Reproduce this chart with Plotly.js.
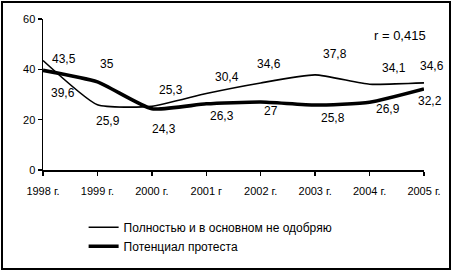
<!DOCTYPE html>
<html><head><meta charset="utf-8">
<script src="https://cdn.plot.ly/plotly-3.0.1.min.js"></script>
<style>
html,body{margin:0;padding:0;background:#fff;}
#wrap{position:relative;width:452px;height:271px;}
#chart{width:452px;height:271px;}
#frame{position:absolute;left:1px;top:1px;width:446px;height:265px;border:2px solid #000;pointer-events:none;}
</style>
</head><body>
<div id="wrap"><div id="chart"></div><div id="frame"></div></div>
<script>
const years = [1998, 1999, 2000, 2001, 2002, 2003, 2004, 2005];
const yearLabels = ["1998 г.", "1999 г.", "2000 г.", "2001 г", "2002 г.", "2003 г.", "2004 г.", "2005 г."];
const disapprove = [43.5, 25.9, 25.3, 30.4, 34.6, 37.8, 34.1, 34.6];
const protest = [39.6, 35, 24.3, 26.3, 27, 25.8, 26.9, 32.2];
const disapproveLabels = ["43,5", "25,9", "25,3", "30,4", "34,6", "37,8", "34,1", "34,6"];
const protestLabels = ["39,6", "35", "24,3", "26,3", "27", "25,8", "26,9", "32,2"];
const seriesNames = ["Полностью и в основном не одобряю", "Потенциал протеста"];
const corrText = "r = 0,415";

// label offsets (pixels) – styling only
const dOff = [[21,-2],[11,16],[19,-16],[21,-16],[8,-19],[20,-21],[24,-16],[8,-17]];
const pOff = [[20,23],[10,-18],[12,20],[16,12],[10,9],[18,13],[18,7],[6,12]];

const font = "Liberation Sans Narrow, Liberation Sans, Arial, sans-serif";

const traces = [
  {x: years, y: disapprove, name: seriesNames[0], mode: "lines",
   line: {color: "#000", width: 1.6, shape: "spline", smoothing: 0.5}},
  {x: years, y: protest, name: seriesNames[1], mode: "lines",
   line: {color: "#000", width: 3.6, shape: "spline", smoothing: 0.5}}
];

const annotations = [];
years.forEach((yr, i) => {
  annotations.push({x: yr, y: disapprove[i], text: disapproveLabels[i], showarrow: false,
    xshift: dOff[i][0], yshift: -dOff[i][1], font: {family: font, size: 12, color: "#000"}});
  annotations.push({x: yr, y: protest[i], text: protestLabels[i], showarrow: false,
    xshift: pOff[i][0], yshift: -pOff[i][1], font: {family: font, size: 12, color: "#000"}});
});
annotations.push({xref: "paper", yref: "paper", x: 1.01, y: 0.894, xanchor: "right", yanchor: "middle",
  text: corrText, showarrow: false, font: {family: font, size: 13, color: "#000"}});

const layout = {
  width: 452, height: 271,
  margin: {l: 43, r: 28, t: 19, b: 101, autoexpand: false},
  paper_bgcolor: "#fff", plot_bgcolor: "#fff",
  showlegend: true,
  legend: {xref: "container", yref: "container", x: 0.185, y: 0.215, xanchor: "left", yanchor: "top",
    font: {family: font, size: 12, color: "#000"}, tracegroupgap: 0, itemwidth: 30,
    bgcolor: "rgba(0,0,0,0)"},
  xaxis: {range: [1998, 2005], tickvals: years, ticktext: yearLabels, showgrid: false,
    zeroline: false, showline: true, linecolor: "#000", linewidth: 1.5,
    ticks: "outside", ticklen: 4, tickcolor: "#000", tickwidth: 1.5, ticklabelstandoff: 6,
    tickfont: {family: font, size: 11, color: "#000"}},
  yaxis: {range: [0, 60], tickvals: [0, 20, 40, 60], showgrid: false, zeroline: false,
    showline: true, linecolor: "#000", linewidth: 1.5,
    ticks: "outside", ticklen: 4, tickcolor: "#000", tickwidth: 1.5,
    tickfont: {family: font, size: 11, color: "#000"}},
  annotations: annotations
};

Plotly.newPlot("chart", traces, layout, {displayModeBar: false, staticPlot: true});
</script>
</body></html>
